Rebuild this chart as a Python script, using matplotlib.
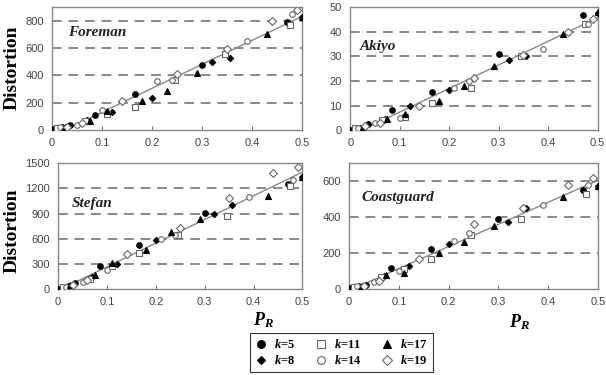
import matplotlib
matplotlib.use("Agg")
import matplotlib.pyplot as plt
import numpy as np

plt.rcParams["mathtext.fontset"] = "custom"
plt.rcParams["mathtext.it"] = "Liberation Serif:italic:bold"
plt.rcParams["mathtext.rm"] = "Liberation Serif:bold"
plt.rcParams["font.family"] = "Liberation Sans"

# P_R positions per k (shared by all sequences)
k_labels = ["k=5", "k=8", "k=11", "k=14", "k=17", "k=19"]
x_k5 = [0.0, 0.035, 0.085, 0.165, 0.30, 0.47]
x_k8 = [0.02, 0.07, 0.12, 0.20, 0.32, 0.355, 0.50]
x_k11 = [0.01, 0.065, 0.11, 0.165, 0.245, 0.345, 0.475]
x_k14 = [0.015, 0.05, 0.10, 0.21, 0.24, 0.39, 0.48]
x_k17 = [0.025, 0.075, 0.11, 0.18, 0.23, 0.29, 0.43, 0.50]
x_k19 = [0.03, 0.06, 0.14, 0.25, 0.35, 0.44, 0.49]

# distortion per sequence, per k
foreman = [
    [10, 40, 110, 265, 480, 790],
    [25, 75, 130, 235, 500, 530, 830],
    [15, 65, 120, 170, 370, 560, 770],
    [20, 40, 150, 360, 370, 650, 850],
    [25, 70, 140, 215, 285, 420, 700, 830],
    [25, 55, 210, 410, 590, 800, 880],
]
akiyo = [
    [0, 2.5, 8, 15.5, 31, 47],
    [1, 4.5, 10, 16.5, 28.5, 30, 47.5],
    [0.8, 4, 5.5, 11, 17, 30, 43],
    [1, 3, 5, 17, 20, 33, 43],
    [1.2, 4.5, 6.5, 12, 18, 26, 39, 48],
    [1.5, 3, 10, 21, 30.5, 40, 45],
]
stefan = [
    [0, 70, 280, 520, 910, 1250],
    [40, 150, 300, 580, 890, 1000, 1330],
    [20, 120, 270, 430, 650, 870, 1230],
    [30, 90, 230, 600, 640, 1100, 1300],
    [50, 170, 310, 470, 680, 830, 1110, 1340],
    [50, 110, 420, 730, 1080, 1380, 1450],
]
coastguard = [
    [5, 25, 115, 225, 390, 550],
    [15, 75, 130, 250, 375, 450, 575],
    [10, 70, 110, 165, 300, 390, 530],
    [15, 40, 100, 270, 310, 470, 580],
    [20, 80, 90, 200, 260, 350, 510, 575],
    [20, 45, 170, 360, 450, 580, 620],
]

xs = [x_k5, x_k8, x_k11, x_k14, x_k17, x_k19]
markers = ["o", "D", "s", "o", "^", "D"]
filled = [True, True, False, False, True, False]
msizes = [4, 3.2, 3.8, 4, 4, 3.8]

panels = [
    ("Foreman", foreman, [0.086, 0.653, 0.413, 0.328], 900, [0, 200, 400, 600, 800], (0.065, 0.79)),
    ("Akiyo", akiyo, [0.578, 0.653, 0.408, 0.328], 50, [0, 10, 20, 30, 40, 50], (0.04, 0.68)),
    ("Stefan", stefan, [0.096, 0.229, 0.403, 0.336], 1500, [0, 300, 600, 900, 1200, 1500], (0.057, 0.68)),
    ("Coastguard", coastguard, [0.576, 0.229, 0.411, 0.336], 700, [0, 200, 400, 600], (0.05, 0.73)),
]

fig = plt.figure(figsize=(6.06, 3.75), dpi=100)

handles = []
for name, data, rect, ytop, yticks, tpos in panels:
    ax = fig.add_axes(rect)
    for yv in yticks[1:]:
        if yv < ytop:
            ax.axhline(yv, color="#888888", linestyle=(0, (5, 3.5)), linewidth=1.4, zorder=0)
    allx, ally = [], []
    hs = []
    for x, y, m, f, ms in zip(xs, data, markers, filled, msizes):
        h, = ax.plot(x, y, linestyle="none", marker=m, markersize=ms,
                     markerfacecolor="black" if f else "white",
                     markeredgecolor="black" if f else "#666666",
                     markeredgewidth=0.8, zorder=3)
        hs.append(h)
        allx += list(x)
        ally += list(y)
    handles = hs
    slope, icpt = np.polyfit(allx, ally, 1)
    xl = np.array([0.0, 0.5])
    ax.plot(xl, slope * xl + icpt, color="#888888", linewidth=1.0, zorder=2)
    ax.set_xlim(0, 0.5)
    ax.set_ylim(0, ytop)
    ax.set_xticks([0, 0.1, 0.2, 0.3, 0.4, 0.5])
    ax.set_xticklabels(["0", "0.1", "0.2", "0.3", "0.4", "0.5"])
    ax.set_yticks(yticks)
    ax.tick_params(axis="x", direction="in", length=3, color="#777777",
                   labelsize=8, labelcolor="#444444", pad=6)
    ax.tick_params(axis="y", length=0, labelsize=8, labelcolor="#444444", pad=6)
    for s in ax.spines.values():
        s.set_color("#888888")
        s.set_linewidth(1.0)
    ax.text(tpos[0], tpos[1], name, transform=ax.transAxes, fontsize=11,
            family="Liberation Serif", weight="bold", style="italic",
            color="#222222", va="center", ha="left")

fig.text(0.02, 0.818, "Distortion", rotation=90, fontsize=14, family="Liberation Serif",
         weight="bold", va="center", ha="center")
fig.text(0.02, 0.385, "Distortion", rotation=90, fontsize=14, family="Liberation Serif",
         weight="bold", va="center", ha="center")
fig.text(0.435, 0.145, r"$P_R$", fontsize=13, ha="center", va="center")
fig.text(0.858, 0.14, r"$P_R$", fontsize=13, ha="center", va="center")

leg = fig.legend(handles, [r"$k$=5", r"$k$=8", r"$k$=11", r"$k$=14", r"$k$=17", r"$k$=19"],
                 ncol=3, loc="center", bbox_to_anchor=(0.563, 0.06), frameon=True,
                 fancybox=False, edgecolor="black", handlelength=1.0, handletextpad=0.5,
                 columnspacing=1.6, labelspacing=0.25, borderpad=0.4, markerscale=1.4,
                 prop={"family": "Liberation Serif", "weight": "bold", "size": 9})
leg.get_frame().set_linewidth(0.8)

fig.savefig("out.png", dpi=100)
